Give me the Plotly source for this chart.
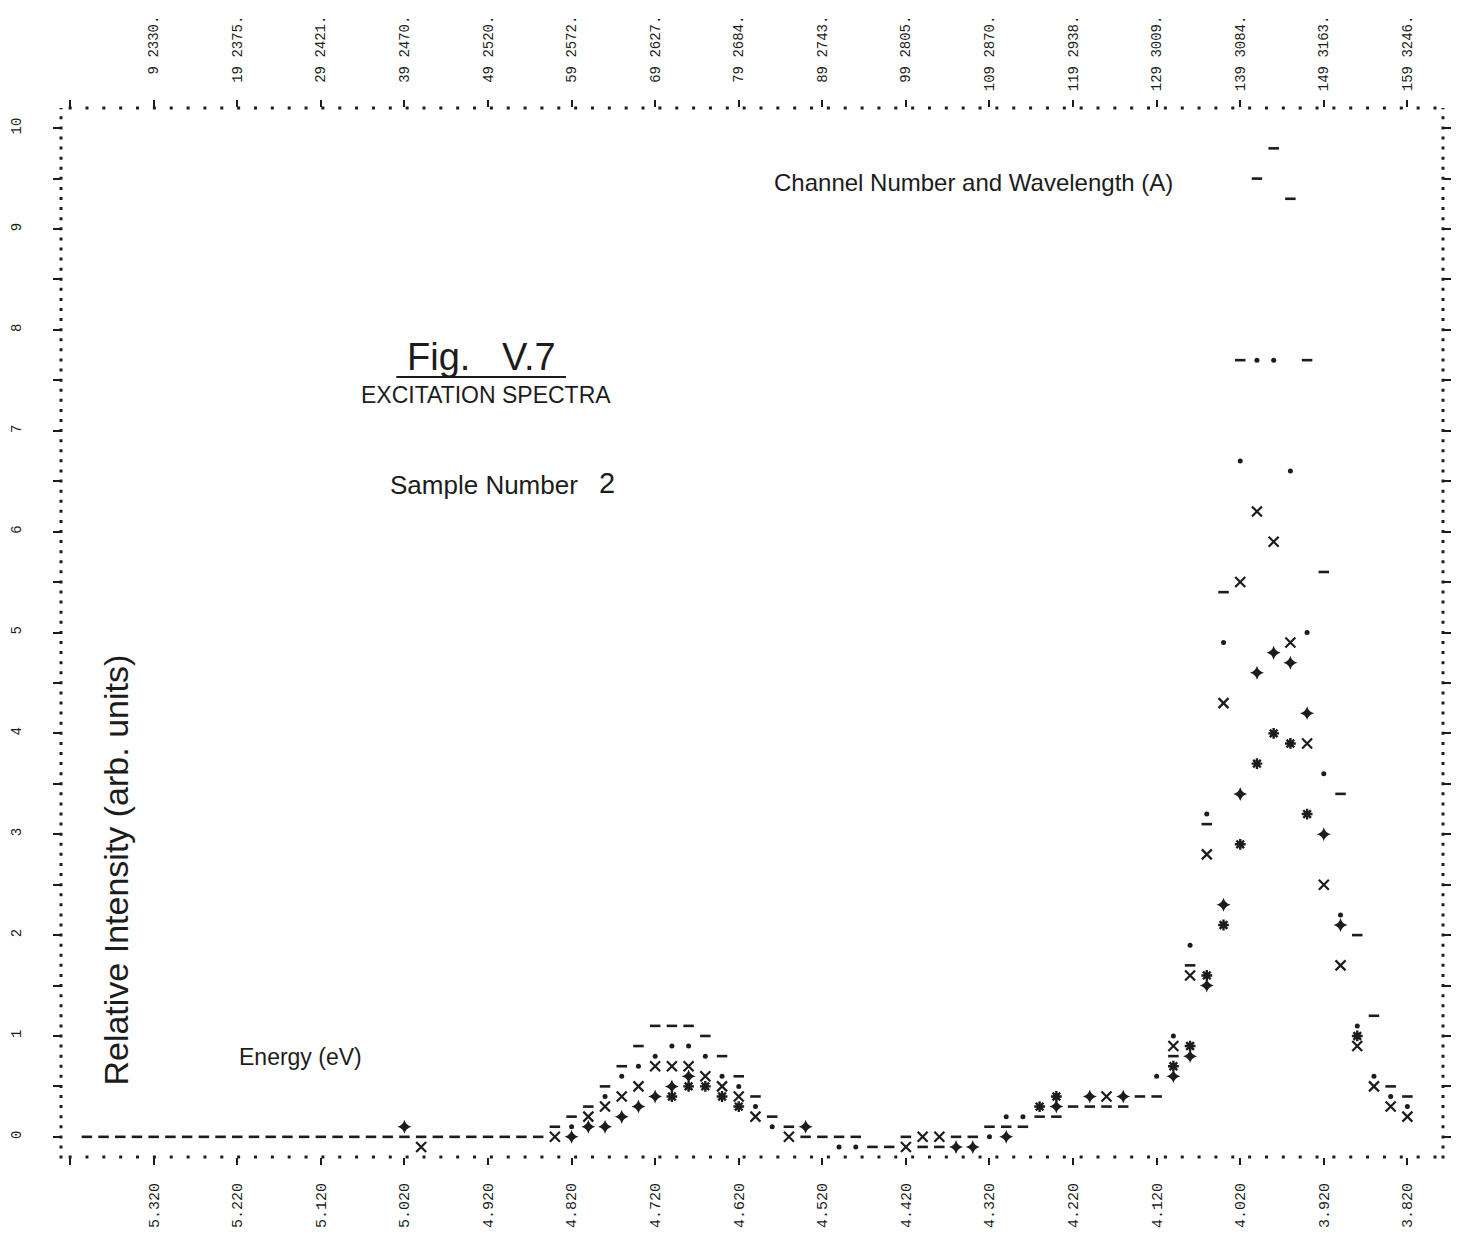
import plotly.graph_objects as go

# ---------------- data ----------------
# one printer line every second channel: channels 1,3,...,159
channels = list(range(1, 160, 2))

# series read from the print-out (None = not printed / hidden by another symbol)
series_I = [0, 0, 0, 0, 0, 0, 0, 0, 0, 0,
            0, 0, 0, 0, 0, 0, 0, 0, 0, 0,
            0, 0, 0, 0, 0, 0, 0, 0, 0.1, 0.2,
            0.3, 0.5, 0.7, 0.9, 1.1, 1.1, 1.1, 1.0, 0.8, 0.6,
            0.4, 0.2, 0.1, 0, 0, 0, 0, -0.1, -0.1, 0,
            -0.1, -0.1, 0, 0, 0.1, 0.1, 0.1, 0.2, 0.2, 0.3,
            0.3, 0.3, 0.3, 0.4, 0.4, 0.8, 1.7, 3.1, 5.4, 7.7,
            9.5, 9.8, 9.3, 7.7, 5.6, 3.4, 2.0, 1.2, 0.5, 0.4]

series_X = [None] * 20 + \
           [-0.1, None, None, None, None, None, None, None, 0.0, None,
            0.2, 0.3, 0.4, 0.5, 0.7, 0.7, 0.7, 0.6, 0.5, 0.4,
            0.2, None, 0.0, None, None, None, None, None, None, -0.1,
            0.0, 0.0, None, None, None, None, None, None, None, None,
            None, 0.4, None, None, None, 0.9, 1.6, 2.8, 4.3, 5.5,
            6.2, 5.9, 4.9, 3.9, 2.5, 1.7, 0.9, 0.5, 0.3, 0.2]

series_dot = [None] * 20 + \
             [None, None, None, None, None, None, None, None, None, 0.1,
              None, 0.4, 0.6, 0.7, 0.8, 0.9, 0.9, 0.8, 0.6, 0.5,
              0.3, 0.1, None, None, None, -0.1, -0.1, None, None, None,
              None, None, None, None, 0.0, 0.2, 0.2, None, None, None,
              None, None, None, None, 0.6, 1.0, 1.9, 3.2, 4.9, 6.7,
              7.7, 7.7, 6.6, 5.0, 3.6, 2.2, 1.1, 0.6, 0.4, 0.3]

series_plus = [None] * 10 + \
              [None, None, None, None, None, None, None, None, None, 0.1,
               None, None, None, None, None, None, None, None, None, 0.0,
               0.1, 0.1, 0.2, 0.3, 0.4, 0.5, 0.6, None, None, None,
               None, None, None, 0.1, None, None, None, None, None, None,
               None, None, -0.1, -0.1, None, 0.0, None, None, 0.3, None,
               0.4, None, 0.4, None, None, 0.6, 0.8, 1.5, 2.3, 3.4,
               4.6, 4.8, 4.7, 4.2, 3.0, 2.1, None, None, None, None]

series_star = [None] * 30 + \
              [None, None, None, None, None, 0.4, 0.5, 0.5, 0.4, 0.3,
               None, None, None, None, None, None, None, None, None, None,
               None, None, None, None, None, None, None, 0.3, 0.4, None,
               None, None, None, None, None, 0.7, 0.9, 1.6, 2.1, 2.9,
               3.7, 4.0, 3.9, 3.2, None, None, 1.0, None, None, None]

# axis labelling
tick_channels = [9, 19, 29, 39, 49, 59, 69, 79, 89, 99, 109, 119, 129, 139, 149, 159]
energy_labels = ["5.320", "5.220", "5.120", "5.020", "4.920", "4.820", "4.720", "4.620",
                 "4.520", "4.420", "4.320", "4.220", "4.120", "4.020", "3.920", "3.820"]
wavelength_labels = ["2330", "2375", "2421", "2470", "2520", "2572", "2627", "2684",
                     "2743", "2805", "2870", "2938", "3009", "3084", "3163", "3246"]
y_ticks = [k / 2 for k in range(0, 21)]

# ---------------- figure ----------------
W, H = 1459, 1258
ML, MR, MT, MB = 57, 9, 108, 101
PW, PH = W - ML - MR, H - MT - MB
X_RANGE = [-2.09, 163.26]
Y_RANGE = [-0.2, 10.2]
INK = "#1c1c1c"


def px(xp):
    return (xp - ML) / PW


def py(yp):
    return (H - MB - yp) / PH


fig = go.Figure()

fig.add_trace(go.Scatter(x=channels, y=series_dot, mode="markers", name=".",
                         yaxis="y2",
                         marker=dict(symbol="circle", size=5, color=INK)))
fig.add_trace(go.Scatter(x=channels, y=series_star, mode="markers", name="*",
                         marker=dict(symbol="asterisk-open", size=9, color=INK,
                                     line=dict(color=INK, width=2.4))))
fig.add_trace(go.Scatter(x=channels, y=series_plus, mode="markers", name="+",
                         marker=dict(symbol="star-diamond", size=10, color=INK,
                                     line=dict(width=0))))
fig.add_trace(go.Scatter(x=channels, y=series_X, mode="markers", name="X",
                         xaxis="x2",
                         marker=dict(symbol="x-thin-open", size=10, color=INK,
                                     line=dict(color=INK, width=2.2))))
fig.add_trace(go.Scatter(x=channels, y=series_I, mode="markers", name="I",
                         marker=dict(symbol="line-ew-open", size=7.5, color=INK,
                                     line=dict(color=INK, width=2.6))))

mono = "Liberation Mono, DejaVu Sans Mono, monospace"
sans = "Liberation Sans, Arial, Helvetica, sans-serif"

bottom_vals = [-1] + tick_channels
bottom_text = [""] + energy_labels
top_text = [""] + [(f"{c:>3} {w}.").replace(" ", "\u00a0")
                   for c, w in zip(tick_channels, wavelength_labels)]

axis_common = dict(showgrid=False, zeroline=False, showline=False,
                   ticks="outside", ticklen=7, tickwidth=2, tickcolor=INK)

fig.update_layout(
    width=W, height=H, autosize=False,
    margin=dict(l=ML, r=MR, t=MT, b=MB, pad=0),
    paper_bgcolor="white", plot_bgcolor="white",
    showlegend=False,
    xaxis=dict(range=X_RANGE, tickmode="array", tickvals=bottom_vals,
               ticktext=bottom_text, tickangle=-90,
               tickfont=dict(family=mono, size=15, color=INK),
               ticklabelstandoff=12, **axis_common),
    xaxis2=dict(range=X_RANGE, overlaying="x", side="top", anchor="y",
                tickmode="array", tickvals=bottom_vals, ticktext=top_text,
                tickangle=-90, tickfont=dict(family=mono, size=14, color=INK),
                ticklabelstandoff=6, **axis_common),
    yaxis=dict(range=Y_RANGE, tickmode="array", tickvals=y_ticks,
               ticktext=[str(int(v)) if v == int(v) else "" for v in y_ticks],
               tickangle=-90, tickfont=dict(family=mono, size=14, color=INK),
               ticklabelstandoff=26, **axis_common),
    yaxis2=dict(range=Y_RANGE, overlaying="y", side="right", anchor="x",
                tickmode="array", tickvals=y_ticks, showticklabels=False,
                **axis_common),
)

# dotted line-printer frame
h_dash = "3px,13.85px"
v_dash = "3px,7.09px"
frame = [
    dict(x0=px(64.7), x1=1, y0=0, y1=0, dash=h_dash),
    dict(x0=px(64.7), x1=1, y0=1, y1=1, dash=h_dash),
    dict(x0=0, x1=0, y0=-0.0015, y1=1, dash=v_dash),
    dict(x0=1, x1=1, y0=-0.0015, y1=1, dash=v_dash),
]
for f in frame:
    fig.add_shape(type="line", xref="paper", yref="paper",
                  x0=f["x0"], x1=f["x1"], y0=f["y0"], y1=f["y1"],
                  line=dict(color=INK, width=3, dash=f["dash"]))

# underline of the figure number
fig.add_shape(type="line", xref="paper", yref="paper",
              x0=px(395), x1=px(566), y0=py(377), y1=py(377),
              line=dict(color=INK, width=2))


def note(text, x, y, size, angle=0, family=sans):
    fig.add_annotation(text=text, xref="paper", yref="paper",
                       x=px(x), y=py(y), xanchor="center", yanchor="middle",
                       showarrow=False, textangle=angle,
                       font=dict(family=family, size=size, color=INK))


note("Channel Number and Wavelength (A)", 977, 182, 24)
note("Fig.\u00a0\u00a0\u00a0V.7", 481, 357, 38)
note("EXCITATION SPECTRA", 485, 395, 23)
note("Sample Number", 483, 485, 26)
note("2", 607, 483, 29)
note("Relative Intensity (arb. units)", 112, 870, 34, angle=-90)
note("Energy (eV)", 298, 1057, 23)

fig.write_html("out.html")
